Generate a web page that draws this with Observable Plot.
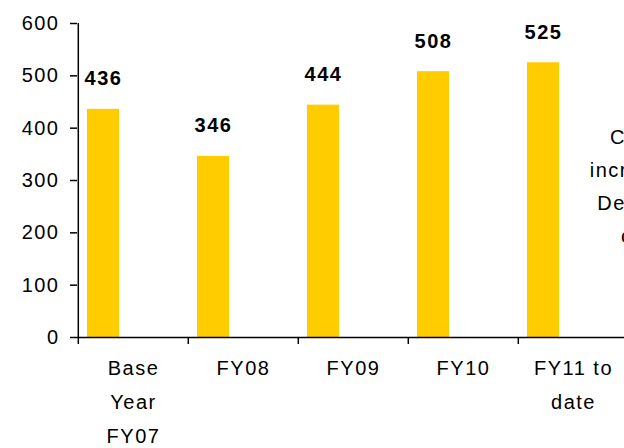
<!DOCTYPE html>
<html>
<head>
<meta charset="utf-8">
<script src="https://cdn.jsdelivr.net/npm/d3@7"></script>
<script src="https://cdn.jsdelivr.net/npm/@observablehq/plot@0.6"></script>
<style>
  html, body { margin: 0; padding: 0; background: #fff; overflow: hidden; }
  #chart svg { overflow: hidden; }
</style>
</head>
<body>
<div id="chart"></div>
<script>
const categories = ["Base Year FY07", "FY08", "FY09", "FY10", "FY11 to date"];
const values = [436, 346, 444, 508, 525];
const tickLabels = ["Base\nYear\nFY07", "FY08", "FY09", "FY10", "FY11 to\ndate"];
const yTicks = [0, 100, 200, 300, 400, 500, 600];
const note = "Cost\nincrease\nDec 10\non";

const data = categories.map((c, i) => ({category: c, value: values[i], label: tickLabels[i]}));

const chart = Plot.plot({
  width: 624,
  height: 448,
  marginTop: 23,
  marginBottom: 111,
  marginLeft: 77,
  marginRight: 0,
  style: {fontFamily: "'Liberation Sans', Arial, sans-serif", fontSize: "20px", letterSpacing: "1.5px", color: "#000", background: "#fff"},
  x: {type: "band", domain: categories, range: [76.5, 628.5], paddingInner: 0.71, paddingOuter: 0.355, label: null},
  y: {domain: [0, 600], range: [337, 23], label: null},
  marks: [
    Plot.barY(data, {x: "category", y: "value", fill: "#FFCC00", dx: -30}),
    Plot.text(data, {x: "category", y: "value", text: d => String(d.value), dx: -30, dy: -24, lineAnchor: "bottom", fontWeight: "bold", fontSize: 20}),
    Plot.ruleY([0], {strokeWidth: 1.5}),
    Plot.ruleX([categories[0]], {x: d => d, dx: -55.2, y1: 0, y2: 600, strokeWidth: 1.5}),
    Plot.axisX({tickSize: 7, dx: -55.2, tickFormat: () => "", strokeWidth: 1.5, label: null}),
    Plot.text(data, {x: "category", text: "label", frameAnchor: "bottom", lineAnchor: "top", dy: 13, lineHeight: 1.7, fontSize: 20}),
    Plot.axisY({ticks: yTicks, tickSize: 7, tickPadding: 11, strokeWidth: 1.5, fontSize: 20, label: null}),
    Plot.text([note], {text: d => d, frameAnchor: "right", dx: 9, dy: 2, textAnchor: "middle", lineHeight: 1.65, fontSize: 20})
  ]
});
document.getElementById("chart").append(chart);
</script>
</body>
</html>
